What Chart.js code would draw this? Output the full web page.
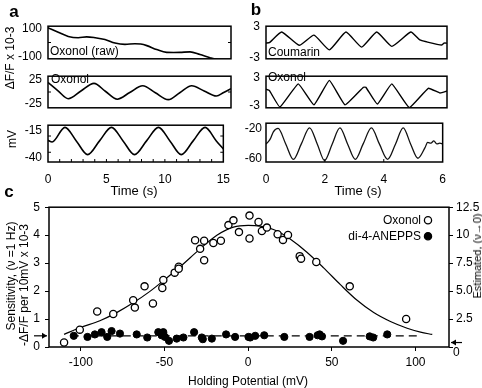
<!DOCTYPE html>
<html>
<head>
<meta charset="utf-8">
<script src="https://cdn.jsdelivr.net/npm/chart.js@4.4.1/dist/chart.umd.min.js"></script>
<style>
  body { margin: 0; background: #fff; }
  #fig { position: relative; width: 482px; height: 388px; overflow: hidden; font-family: "Liberation Sans", Arial, sans-serif; color: #000; }
  #fig canvas { position: absolute; }
  .t { position: absolute; font-size: 12px; line-height: 12px; white-space: nowrap; }
  .c { transform: translate(-50%, -50%); }
  .l { transform: translate(0, -50%); }
  .r { transform: translate(-50%, -50%) rotate(-90deg); }
  .big { font-weight: bold; font-size: 17px; line-height: 17px; }
</style>
</head>
<body>
<div id="fig">
  <canvas id="a1" width="240" height="59" style="left:0;top:13px"></canvas>
  <canvas id="a2" width="240" height="58" style="left:0;top:63px"></canvas>
  <canvas id="a3" width="240" height="80" style="left:0;top:112px"></canvas>
  <canvas id="b1" width="216" height="59" style="left:240px;top:13px"></canvas>
  <canvas id="b2" width="216" height="58" style="left:240px;top:63px"></canvas>
  <canvas id="b3" width="216" height="80" style="left:240px;top:112px"></canvas>
  <canvas id="cc" width="482" height="193" style="left:0;top:195px"></canvas>

  <div class="t big c" style="left:14px;top:11px">a</div>
  <div class="t big c" style="left:256px;top:9px">b</div>
  <div class="t big c" style="left:9px;top:191px">c</div>

  <div class="t r" style="left:10px;top:58px">ΔF/F x 10-3</div>
  <div class="t r" style="left:12px;top:139px">mV</div>
  <div class="t c" style="left:134px;top:191px;font-size:13px">Time (s)</div>
  <div class="t c" style="left:358px;top:191px;font-size:13px">Time (s)</div>

  <div class="t l" style="left:50px;top:51px">Oxonol (raw)</div>
  <div class="t l" style="left:51px;top:79px">Oxonol</div>
  <div class="t l" style="left:268px;top:52px">Coumarin</div>
  <div class="t l" style="left:268px;top:77px">Oxonol</div>

  <div class="t c" style="left:248px;top:381px">Holding Potential (mV)</div>
  <div class="t r" style="left:11px;top:276px">Sensitivity, (ν =1 Hz)</div>
  <div class="t r" style="left:24px;top:285px">-ΔF/F per 10mV x 10-3</div>
  <div class="t r" style="left:477px;top:256px;font-size:11px">Estimated, (ν→0)</div>
</div>

<script>
// --- panel a : 0.25 Hz holding-potential modulation (time in s) ---
const aRawT = [0, 0.84, 1.66, 2.48, 3.17, 3.85, 4.67, 5.49, 6.31, 7.13, 7.6, 8.1, 8.91, 9.73, 10.3, 10.82, 11.64, 12.46, 13.28, 13.9, 15];
const aRawV = [104, 72, 43, 34, 40, 34, 21, -4, -13, -9, -11, -22, -50, -70, -71, -70, -66, -85, -107, -120, -125];

const aOxT = [0, 0.8, 1.66, 2.7, 3.77, 4.7, 5.68, 6.7, 7.76, 8.8, 9.86, 10.8, 11.78, 12.8, 13.8, 14.4, 15];
const aOxV = [20, 3, -14, 2, 18, 1.5, -15, -1, 13, -1.5, -16, -1.5, 13, 2, -8.5, -1, 7];

const aMvT = [0, 0.35, 1.45, 2.42, 3.39, 4.41, 5.43, 6.42, 7.4, 8.43, 9.45, 10.43, 11.4, 12.42, 13.44, 14.4, 15];
const aMvV = [-24, -25.5, -12, -24.5, -37.2, -24.5, -12, -24.5, -37.2, -24.5, -12, -24.5, -37.2, -24.5, -12, -24.5, -32];

// --- panel b : ~1 Hz modulation ---
const bCouT = [0, 0.11, 0.52, 1.1, 1.59, 2.1, 2.65, 3.17, 3.67, 4.17, 4.8, 5.1, 5.33, 5.82, 5.9, 6];
const bCouV = [-0.12, -0.03, 2.03, -0.54, 1.42, -1.42, 2.03, -0.89, 2.03, -0.74, 2.03, 0.49, 0.12, -0.49, -0.12, -0.12];

const bOxT = [0, 0.11, 0.46, 1.07, 1.59, 2.1, 2.62, 3.23, 3.31, 3.69, 4.17, 4.75, 5.38, 5.77, 6];
const bOxV = [0.63, 0.34, -3.26, 1.77, -2.8, 2.52, -2.8, 1.03, 1.03, -2.62, 1.77, -3.38, 0.81, -0.22, 0.22];

const bMvT = [0, 0.08, 0.15, 0.25, 0.41, 0.67, 0.93, 1.2, 1.48, 1.74, 1.99, 2.25, 2.51, 2.77, 3.03, 3.3, 3.58, 3.85, 4.13, 4.4, 4.66, 4.91, 5.16, 5.4, 5.49, 5.6, 5.7, 5.8, 5.9, 6];
const bMvV = [-40, -37, -33, -24, -19.5, -40, -60.4, -40, -18.7, -40, -62, -40, -18.7, -40, -60.4, -40, -18.7, -40, -60.4, -40, -18.7, -40, -59, -45, -38, -39, -36, -40, -39, -40];

// --- panel c : sensitivity vs holding potential (mV) ---
const oxX = [-110, -100.6, -90.2, -80.6, -68.7, -67.7, -61.9, -56.9, -51.3, -50.7, -43.9, -41.5, -41.5, -31.7, -28.7, -26.3, -26.3, -20.8, -16.3, -11.8, -8.8, -5.5, 0.8, 0.8, 6.2, 8.2, 11.2, 17.6, 20.8, 23.8, 30.8, 31.6, 40.7, 60.7, 94.4];
const oxY = [0.16, 0.62, 1.27, 1.18, 1.67, 1.41, 2.17, 1.56, 2.11, 2.40, 2.66, 2.87, 2.8, 3.82, 3.51, 3.80, 3.10, 3.72, 3.80, 4.36, 4.53, 4.11, 4.70, 3.88, 4.47, 4.15, 4.27, 4.03, 3.83, 4.01, 3.25, 3.16, 3.04, 2.17, 1.00];

const diX = [-104.2, -96, -91.6, -87.6, -84.2, -81.6, -76.6, -66.6, -60.3, -53.7, -50.7, -51.7, -49.7, -47.3, -42.7, -38.7, -32.3, -27.7, -27.1, -21.7, -13.2, -7.8, 0.2, 1.2, 4.2, 9.6, 21.6, 36.7, 41.5, 44.1, 42.7, 56.7, 72.6, 74.7, 83.1];
const diY = [0.40, 0.36, 0.45, 0.53, 0.36, 0.57, 0.48, 0.45, 0.34, 0.53, 0.53, 0.42, 0.36, 0.22, 0.30, 0.34, 0.53, 0.34, 0.28, 0.30, 0.45, 0.36, 0.36, 0.34, 0.40, 0.42, 0.36, 0.36, 0.42, 0.38, 0.45, 0.22, 0.38, 0.34, 0.45];

const fitX = [-110, -100.6, -88.6, -78.6, -68.7, -58.7, -50.7, -40.7, -28.7, -18.7, -8.8, 0, 7.2, 17.2, 25.1, 35.1, 45.1, 55.1, 65.1, 75, 85, 95, 103, 110];
const fitY = [0.45, 0.69, 0.94, 1.23, 1.58, 1.99, 2.37, 2.87, 3.51, 4.0, 4.29, 4.35, 4.32, 4.15, 3.86, 3.39, 2.83, 2.23, 1.67, 1.23, 0.91, 0.67, 0.53, 0.45];

const dashX = [-106, 103];
const dashY = [0.4, 0.4];
const arrowLeft = 0.4;   // marked on left axis
const arrowRight = 0.4;  // marked on right axis

const cXTicks = [-100, -50, 0, 50, 100];
const cLeftTicks = [0, 1, 2, 3, 4, 5];
const cRightTicks = [0, 2.5, 5, 7.5, 10, 12.5];
const cRightLabels = ['0', '2.5', '5.0', '7.5', '10', '12.5'];
const seriesNames = ['Oxonol', 'di-4-ANEPPS'];

Chart.defaults.font.family = '"Liberation Sans", Arial, sans-serif';
Chart.defaults.font.size = 12;
Chart.defaults.color = '#000';

const toPts = (xs, ys) => xs.map((x, i) => ({ x: x, y: ys[i] }));

// box round the plot area + small inward ticks
const frame = {
  id: 'frame',
  afterDraw(chart, args, o) {
    const { ctx, chartArea: a, scales } = chart;
    ctx.save();
    ctx.strokeStyle = '#000';
    ctx.lineWidth = 1.5;
    ctx.strokeRect(a.left, a.top, a.right - a.left, a.bottom - a.top);
    ctx.lineWidth = 1;
    ctx.beginPath();
    (o.xTicks || []).forEach(v => {
      const x = scales.x.getPixelForValue(v);
      ctx.moveTo(x, a.bottom); ctx.lineTo(x, a.bottom - 3);
    });
    (o.yTicks || []).forEach(v => {
      const y = scales.y.getPixelForValue(v);
      ctx.moveTo(a.left, y); ctx.lineTo(a.left + 3, y);
      ctx.moveTo(a.right, y); ctx.lineTo(a.right - 3, y);
    });
    ctx.stroke();
    ctx.restore();
  }
};

function trace(id, pts, o) {
  return new Chart(document.getElementById(id), {
    type: 'line',
    data: {
      datasets: [{
        data: pts,
        borderColor: o.color || '#000',
        borderWidth: o.lw || 1.6,
        pointRadius: 0,
        tension: o.tension || 0,
        cubicInterpolationMode: o.mono ? 'monotone' : 'default',
        fill: false
      }]
    },
    options: {
      responsive: false,
      animation: false,
      devicePixelRatio: 1,
      layout: { padding: { top: 9, right: o.right, bottom: o.showX ? 0 : 9, left: 0 } },
      plugins: {
        legend: { display: false },
        tooltip: { enabled: false },
        frame: { xTicks: o.xMinor || [], yTicks: o.yMinor || [] }
      },
      scales: {
        x: {
          type: 'linear', min: 0, max: o.xMax, display: !!o.showX,
          grid: { display: false, drawTicks: false }, border: { display: false },
          ticks: { padding: 10, maxRotation: 0 },
          afterBuildTicks: s => { s.ticks = (o.xLabels || []).map(v => ({ value: v })); },
          afterFit: s => { if (o.showX) s.height = 30; }
        },
        y: {
          min: o.yMin, max: o.yMax,
          grid: { display: false, drawTicks: false }, border: { display: false },
          ticks: { padding: o.yPad },
          afterBuildTicks: s => { s.ticks = o.yLabels.map(v => ({ value: v })); },
          afterFit: s => { s.width = o.yW; }
        }
      }
    },
    plugins: [frame]
  });
}

// panel a
trace('a1', toPts(aRawT, aRawV), { xMax: 15, yMin: -115, yMax: 115, yLabels: [-100, 100], yW: 48, yPad: 6, right: 9, mono: true, yMinor: [0] });
trace('a2', toPts(aOxT, aOxV), { xMax: 15, yMin: -33, yMax: 33, yLabels: [-25, 25], yW: 48, yPad: 6, right: 9, mono: true, yMinor: [0] });
trace('a3', toPts(aMvT, aMvV), { xMax: 15, yMin: -44, yMax: -10, yLabels: [-40, -15], yW: 48, yPad: 6, right: 9, mono: true,
  showX: true, xLabels: [0, 5, 10, 15], xMinor: [1, 2, 3, 4, 5, 6, 7, 8, 9, 10, 11, 12, 13, 14], yMinor: [-20, -35] });

// panel b
trace('b1', toPts(bCouT, bCouV), { xMax: 6, yMin: -3.15, yMax: 3.15, yLabels: [-3, 3], yW: 26, yPad: 6, right: 9, tension: 0.15, lw: 1.4 });
trace('b2', toPts(bOxT, bOxV), { xMax: 6, yMin: -3.43, yMax: 3.43, yLabels: [-3, 3], yW: 26, yPad: 6, right: 9, tension: 0.1, lw: 1.4 });
trace('b3', toPts(bMvT, bMvV), { xMax: 6, yMin: -64, yMax: -12.5, yLabels: [-60, -20], yW: 26, yPad: 4, right: 9, mono: true, lw: 1.3, color: '#111',
  showX: true, xLabels: [0, 2, 4, 6], xMinor: [2, 4] });

// panel c extras: frame, level arrows, "0" on right axis, legend
function arrow(ctx, x0, x1, y) {
  const d = x1 > x0 ? 1 : -1;
  ctx.beginPath();
  ctx.moveTo(x0, y); ctx.lineTo(x1, y);
  ctx.stroke();
  ctx.beginPath();
  ctx.moveTo(x1, y); ctx.lineTo(x1 - 5 * d, y - 3); ctx.lineTo(x1 - 5 * d, y + 3);
  ctx.closePath();
  ctx.fill();
}

const cExtras = {
  id: 'cExtras',
  afterDraw(chart) {
    const { ctx, chartArea: a, scales } = chart;
    ctx.save();
    ctx.strokeStyle = '#000';
    ctx.fillStyle = '#000';
    ctx.lineWidth = 1.5;
    ctx.strokeRect(a.left, a.top, a.right - a.left, a.bottom - a.top);
    ctx.lineWidth = 1.2;
    arrow(ctx, a.left - 15, a.left - 2, scales.y.getPixelForValue(arrowLeft));
    arrow(ctx, a.right + 13, a.right + 2, scales.y2.getPixelForValue(arrowRight));
    ctx.font = '12px "Liberation Sans", Arial, sans-serif';
    ctx.textBaseline = 'middle';
    ctx.textAlign = 'left';
    ctx.fillText(cRightLabels[0], a.right + 4, scales.y2.getPixelForValue(0) + 6);
    // legend
    ctx.textAlign = 'right';
    const ly = [a.top + 13, a.top + 29];
    seriesNames.forEach((name, i) => {
      ctx.fillStyle = '#000';
      ctx.fillText(name, a.right - 28, ly[i]);
      ctx.beginPath();
      ctx.arc(a.right - 21, ly[i], 3.6, 0, Math.PI * 2);
      ctx.fillStyle = i === 0 ? '#fff' : '#000';
      ctx.fill();
      ctx.lineWidth = 1.3;
      ctx.stroke();
    });
    ctx.restore();
  }
};

const axisGrid = { drawOnChartArea: false, drawTicks: true, tickLength: 4, color: '#000', lineWidth: 1 };

new Chart(document.getElementById('cc'), {
  type: 'line',
  data: {
    datasets: [
      { label: seriesNames[0], data: toPts(oxX, oxY), showLine: false, pointRadius: 3.6, pointBorderWidth: 1.3,
        pointBackgroundColor: '#fff', pointBorderColor: '#000', yAxisID: 'y' },
      { label: seriesNames[1], data: toPts(diX, diY), showLine: false, pointRadius: 3.6, pointBorderWidth: 1,
        pointBackgroundColor: '#000', pointBorderColor: '#000', yAxisID: 'y' },
      { label: 'fit', data: toPts(fitX, fitY), borderColor: '#000', borderWidth: 1.2, pointRadius: 0,
        cubicInterpolationMode: 'monotone', yAxisID: 'y' },
      { label: 'level', data: toPts(dashX, dashY), borderColor: '#000', borderWidth: 1.3, borderDash: [8, 5],
        pointRadius: 0, yAxisID: 'y' }
    ]
  },
  options: {
    responsive: false,
    animation: false,
    devicePixelRatio: 1,
    layout: { padding: { top: 9, right: 0, bottom: 0, left: 0 } },
    plugins: { legend: { display: false }, tooltip: { enabled: false } },
    scales: {
      x: {
        type: 'linear', min: -119, max: 120,
        grid: axisGrid, border: { display: false },
        ticks: { padding: 4, maxRotation: 0 },
        afterBuildTicks: s => { s.ticks = cXTicks.map(v => ({ value: v })); },
        afterFit: s => { s.height = 41; }
      },
      y: {
        position: 'left', min: 0, max: 5,
        grid: axisGrid, border: { display: false },
        ticks: { padding: 5 },
        afterBuildTicks: s => { s.ticks = cLeftTicks.map(v => ({ value: v })); },
        afterFit: s => { s.width = 49; }
      },
      y2: {
        position: 'right', min: 0, max: 12.5,
        grid: axisGrid, border: { display: false },
        ticks: { padding: 3, callback: (v) => { const i = cRightTicks.indexOf(v); return i > 0 ? cRightLabels[i] : ''; } },
        afterBuildTicks: s => { s.ticks = cRightTicks.map(v => ({ value: v })); },
        afterFit: s => { s.width = 33; }
      }
    }
  },
  plugins: [cExtras]
});
</script>
</body>
</html>
